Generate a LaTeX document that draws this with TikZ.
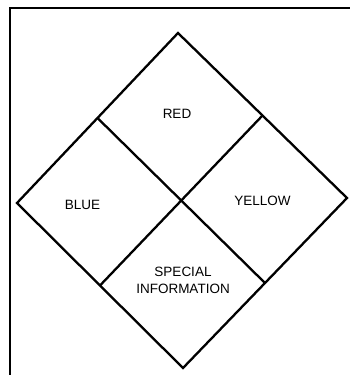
\documentclass[tikz,border=0pt]{standalone}
\usepackage{fontspec}
\setmainfont{Liberation Sans}
\begin{document}
\begin{tikzpicture}[x=1pt,y=-1pt,
  edge/.style={line width=2.3pt,line join=miter,black},
  lbl/.style={font=\fontsize{13.5}{17.5}\selectfont,inner sep=0pt,align=center}]
\useasboundingbox (0,0) rectangle (349,375);
\fill[white] (0,0) rectangle (349,375);
% frame (only top and left edges visible)
\draw[line width=2pt] (10,380) -- (10,8) -- (355,8);
% diamond corners
\coordinate (T) at (178,33);
\coordinate (L) at (17,203);
\coordinate (R) at (347,198);
\coordinate (B) at (183,368);
\coordinate (UL) at (97.5,118);
\coordinate (UR) at (262.5,115.5);
\coordinate (LL) at (100,285.5);
\coordinate (LR) at (265,283);
\draw[edge] (T) -- (R) -- (B) -- (L) -- cycle;
\draw[edge] (UL) -- (LR);
\draw[edge] (UR) -- (LL);
\node[lbl] (red) at (177,114) {RED};
\node[lbl] (blue) at (82.5,205) {BLUE};
\node[lbl] (yellow) at (262.5,201) {YELLOW};
\node[lbl] (special) at (183,280.5) {SPECIAL\\INFORMATION};
\end{tikzpicture}
\end{document}
